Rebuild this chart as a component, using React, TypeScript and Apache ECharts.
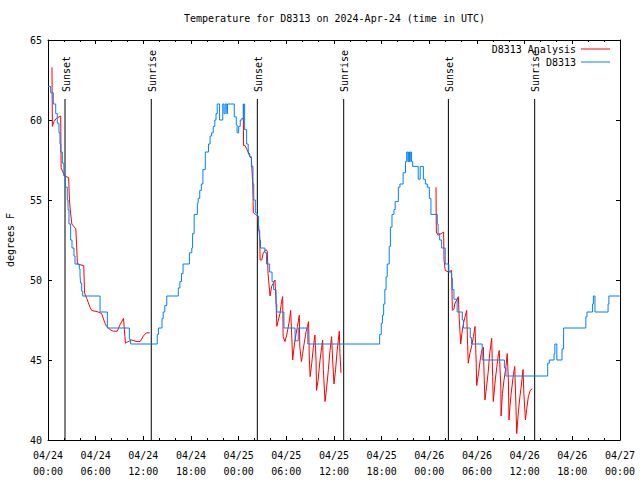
import React, { useEffect, useRef } from "react";
import * as echarts from "echarts";

// Hours since 2024-04-24 00:00 UTC
const chartTitle = "Temperature for D8313 on 2024-Apr-24 (time in UTC)";
const yAxisName = "degrees F";
const analysisName = "D8313 Analysis";
const observedName = "D8313";

const xTickLabels = [
  "04/24\n00:00", "04/24\n06:00", "04/24\n12:00", "04/24\n18:00",
  "04/25\n00:00", "04/25\n06:00", "04/25\n12:00", "04/25\n18:00",
  "04/26\n00:00", "04/26\n06:00", "04/26\n12:00", "04/26\n18:00",
  "04/27\n00:00",
];

const sunHours = [2.14, 13.0, 26.35, 37.22, 50.4, 61.26];
const sunLabels = ["Sunset", "Sunrise", "Sunset", "Sunrise", "Sunset", "Sunrise"];

// Observed station temperature (step changes)
const observedDay1: [number, number][] = [
  [0, 62.1], [0.34, 61.7], [0.67, 61.0], [0.97, 60.4], [1.17, 59.8], [1.38, 59.2], [1.51, 58.5],
  [1.6, 58.0], [1.8, 57.3], [2.0, 56.5], [2.2, 55.8], [2.43, 55.0], [2.52, 54.4], [2.64, 53.5],
  [2.85, 52.5], [3.02, 52.0], [3.27, 51.5], [3.4, 51.0], [3.94, 50.7], [4.03, 50.3], [4.1, 49.8],
  [4.24, 49.3], [4.37, 49.0], [6.55, 48.0], [7.47, 47.0], [10.24, 46.3], [10.4, 46.0],
  [13.75, 46.6], [13.9, 47.0], [14.35, 47.6], [14.5, 48.0], [14.7, 48.4], [14.95, 49.0],
  [16.4, 49.5], [16.6, 49.9], [16.8, 50.4], [17.0, 51.0], [17.8, 51.7], [18.1, 52.0], [18.2, 52.9],
  [18.4, 54.1], [18.8, 54.8], [18.9, 55.1], [19.1, 55.6], [19.3, 56.0], [19.5, 56.9], [19.8, 58.0],
  [20.2, 58.5], [20.4, 59.0], [20.6, 59.2], [20.8, 59.6], [21.0, 60.0], [21.15, 60.4], [21.3, 61.0],
  [21.6, 60.0], [22.0, 61.0], [22.15, 60.4], [22.3, 61.0], [22.5, 60.4], [22.6, 61.0], [23.45, 60.2],
  [23.7, 59.7], [23.8, 59.2], [24.0, 59.6], [24.2, 60.0], [24.4, 60.1], [24.6, 61.0],
];
const observedDay2: [number, number][] = [
  [24.75, 59.4], [25.0, 58.5], [25.2, 57.9], [25.4, 57.7], [25.6, 57.1], [25.8, 56.0], [25.9, 55.0],
  [26.1, 54.2], [26.35, 54.0], [26.5, 53.1], [26.65, 52.5], [26.75, 52.0], [27.3, 51.7], [27.5, 51.0],
  [27.9, 50.5], [28.2, 49.9], [28.4, 49.4], [28.7, 48.5], [28.8, 48.0], [29.7, 47.0], [31.1, 46.2],
  [31.5, 47.0], [32.7, 46.0], [41.75, 46.6], [41.95, 47.3], [42.1, 47.8], [42.25, 48.5], [42.4, 49.4],
  [42.55, 50.2], [42.7, 51.0], [42.95, 52.1], [43.1, 53.3], [43.3, 54.1], [43.55, 54.4], [43.7, 54.9],
  [44.1, 55.8], [44.3, 56.0], [44.7, 56.7], [45.0, 57.4], [45.15, 58.0], [45.3, 57.4], [45.4, 58.0],
  [45.5, 57.4], [45.6, 58.0], [45.75, 57.4], [45.9, 57.1], [46.6, 56.3], [46.85, 57.1], [47.25, 56.3],
  [47.5, 56.0], [47.75, 55.8], [48.0, 55.1], [48.2, 54.1],
];
const observedDay3: [number, number][] = [
  [49.0, 53.5], [49.1, 52.9], [49.3, 52.5], [49.55, 52.0], [50.0, 51.0], [50.45, 50.5], [50.8, 50.1],
  [50.9, 49.4], [51.1, 48.8], [51.5, 48.0], [52.15, 47.5], [52.3, 47.0], [53.15, 46.4], [53.3, 46.0],
  [54.65, 45.0], [57.45, 44.5], [57.65, 44.0], [62.9, 44.8], [63.1, 45.0], [63.7, 45.4], [63.8, 46.0],
  [64.05, 45.0], [64.7, 45.7], [64.9, 47.0], [67.7, 47.7], [67.85, 48.0], [68.55, 48.5], [68.65, 49.0],
  [68.85, 48.0], [70.5, 48.5], [70.6, 49.0], [72, 49.0],
];

// Analysis temperature (nights only)
const analysisNight1: [number, number][] = [
  [0.5, 63.3], [0.55, 59.6], [0.75, 59.9], [1.05, 60.1], [1.6, 60.25], [1.65, 57.0], [2.1, 56.5],
  [2.6, 56.4], [2.7, 55.0], [2.8, 54.4], [3.0, 53.5], [3.5, 53.2], [3.6, 52.2], [3.7, 51.0], [4.5, 50.9],
  [4.6, 49.2], [4.87, 48.85], [5.29, 48.3], [5.5, 48.1], [6.33, 48.0], [6.75, 47.9], [7.17, 47.3],
  [7.38, 47.1], [7.8, 46.9], [8.22, 46.8], [8.72, 46.8], [9.06, 47.2], [9.5, 47.6], [9.75, 46.05],
  [9.9, 46.1], [10.5, 46.25], [11.2, 46.15], [11.6, 46.15], [12.0, 46.5], [12.4, 46.7], [12.8, 46.7],
];
const analysisNight2: [number, number][] = [
  [24.58, 61.0], [24.62, 58.4], [24.8, 58.4], [25.0, 58.2], [25.2, 58.0], [25.4, 57.7], [25.6, 57.6],
  [25.77, 56.0], [25.85, 54.2], [26.1, 54.1], [26.4, 54.0], [26.65, 52.6], [26.7, 51.25], [26.9, 51.25],
  [27.1, 51.7], [27.44, 51.9], [27.6, 51.8], [27.7, 50.4], [27.95, 49.0], [28.15, 49.6], [28.36, 49.8],
  [28.57, 50.0], [28.7, 48.75], [28.8, 47.1], [29.0, 47.5], [29.2, 47.9], [29.4, 48.65], [29.54, 48.96],
  [29.6, 46.46], [29.83, 46.15], [30.05, 46.56], [30.4, 47.5], [30.55, 48.1], [30.7, 46.25], [30.8, 45.0],
  [30.97, 45.8], [31.2, 46.56], [31.4, 47.1], [31.63, 47.8], [31.7, 45.8], [31.9, 44.9], [32.05, 45.4],
  [32.2, 45.9], [32.5, 46.8], [32.8, 47.4], [32.9, 45.0], [33.0, 43.96], [33.2, 44.8], [33.4, 45.8],
  [33.6, 46.56], [33.74, 45.0], [33.8, 43.1], [34.0, 43.75], [34.24, 45.0], [34.45, 45.8], [34.57, 46.25],
  [34.66, 44.4], [34.87, 42.4], [35.08, 43.3], [35.29, 44.4], [35.5, 45.6], [35.7, 46.46], [35.83, 45.0],
  [36.0, 43.5], [36.2, 44.4], [36.4, 45.6], [36.67, 46.8], [36.75, 45.4], [36.88, 44.2],
];
const analysisNight3: [number, number][] = [
  [48.84, 55.8], [48.88, 53.0], [49.1, 52.8], [49.5, 52.9], [49.8, 53.0], [49.85, 51.25], [50.0, 50.6],
  [50.4, 50.5], [50.8, 50.6], [50.9, 48.1], [51.1, 48.2], [51.2, 48.5], [51.45, 48.75], [51.65, 48.96],
  [51.77, 47.5], [51.95, 46.0], [52.1, 46.67], [52.3, 47.3], [52.5, 47.7], [52.7, 48.1], [52.8, 46.25],
  [52.9, 44.8], [53.1, 45.4], [53.3, 45.8], [53.55, 46.46], [53.75, 47.1], [53.9, 44.8], [53.96, 43.4],
  [54.2, 44.2], [54.4, 45.0], [54.6, 45.6], [54.8, 45.8], [54.9, 43.96], [55.0, 42.5], [55.2, 43.3],
  [55.4, 44.2], [55.6, 45.4], [55.85, 46.35], [55.97, 43.96], [56.05, 42.4], [56.3, 43.75], [56.5, 44.6],
  [56.7, 45.4], [56.8, 45.6], [57.0, 43.3], [57.03, 41.5], [57.2, 42.9], [57.4, 43.75], [57.65, 44.6],
  [57.8, 45.4], [57.95, 43.75], [58.03, 41.25], [58.15, 42.1], [58.3, 42.9], [58.55, 43.96], [58.75, 44.6],
  [58.9, 42.1], [59.0, 40.4], [59.2, 41.7], [59.4, 42.7], [59.6, 43.5], [59.8, 44.4], [59.9, 42.9],
  [60.1, 41.25], [60.25, 41.9], [60.46, 42.7], [60.7, 43.1], [60.96, 43.2],
];

const FONT = '"DejaVu Sans Mono", "Liberation Mono", monospace';
const BLACK = "#000000";
const RED = "#ff0000";
const BLUE = "#0080ff";

export default function App() {
  const ref = useRef<HTMLDivElement>(null);

  useEffect(() => {
    if (!ref.current) return;
    const chart = echarts.init(ref.current, null, { renderer: "svg" });

    const observedData = [...observedDay1, ...observedDay2, ...observedDay3];
    const analysisData: any[] = [
      ...analysisNight1,
      [18, null],
      ...analysisNight2,
      [42, null],
      ...analysisNight3,
    ];

    const textBase = { fontFamily: FONT, fontSize: 10, color: BLACK };

    const xCommon = {
      type: "value" as const,
      min: 0,
      max: 72,
      interval: 6,
      splitLine: { show: false },
      axisLine: { show: true, onZero: false, lineStyle: { color: BLACK, width: 1 } },
      axisTick: { show: true, inside: true, length: 4, lineStyle: { color: BLACK, width: 1 } },
      minorTick: { show: true, splitNumber: 3, length: 2, lineStyle: { color: BLACK, width: 1 } },
    };
    const yCommon = {
      type: "value" as const,
      min: 40,
      max: 65,
      interval: 5,
      splitLine: { show: false },
      axisLine: { show: true, onZero: false, lineStyle: { color: BLACK, width: 1 } },
      axisTick: { show: true, inside: true, length: 4, lineStyle: { color: BLACK, width: 1 } },
    };

    const legendCommon = {
      orient: "vertical" as const,
      align: "right" as const,
      right: 30,
      icon: "rect",
      itemWidth: 29,
      itemHeight: 1,
      padding: 0,
      itemGap: 0,
      textStyle: { ...textBase },
      selectedMode: false,
    };

    chart.setOption({
      animation: false,
      backgroundColor: "#ffffff",
      textStyle: { fontFamily: FONT },
      title: {
        text: chartTitle,
        left: 184,
        top: 13,
        padding: 0,
        textStyle: { ...textBase, fontWeight: "normal" },
      },
      legend: [
        { ...legendCommon, top: 44, data: [analysisName] },
        { ...legendCommon, top: 57, data: [observedName] },
      ],
      grid: {
        left: 48,
        right: 20,
        top: 40,
        bottom: 40,
        containLabel: false,
        outerBoundsMode: "none",
      },
      xAxis: [
        {
          ...xCommon,
          position: "bottom",
          axisLabel: {
            ...textBase,
            margin: 7,
            lineHeight: 16,
            formatter: (v: number) => xTickLabels[Math.round(v / 6)] ?? "",
          },
        },
        { ...xCommon, position: "top", axisLabel: { show: false } },
      ],
      yAxis: [
        {
          ...yCommon,
          position: "left",
          name: yAxisName,
          nameLocation: "middle",
          nameGap: 33,
          nameRotate: 90,
          nameTextStyle: { ...textBase },
          axisLabel: { ...textBase, margin: 6 },
        },
        { ...yCommon, position: "right", axisLabel: { show: false } },
      ],
      series: [
        {
          type: "custom",
          name: "sun",
          xAxisIndex: 0,
          yAxisIndex: 0,
          silent: true,
          clip: false,
          data: sunHours.map((h, i) => [h, i]),
          renderItem: (params: any, api: any) => {
            const t = api.value(0);
            const idx = api.value(1);
            const bottom = api.coord([t, 40]);
            const top = api.coord([t, 65]);
            const lineTop = top[1] + 59;
            return {
              type: "group",
              children: [
                {
                  type: "line",
                  shape: { x1: bottom[0], y1: bottom[1], x2: bottom[0], y2: lineTop },
                  style: { stroke: BLACK, lineWidth: 1 },
                },
                {
                  type: "text",
                  x: bottom[0] + 1,
                  y: lineTop - 7,
                  rotation: Math.PI / 2,
                  style: {
                    text: sunLabels[idx],
                    font: `10px ${FONT}`,
                    fill: BLACK,
                    align: "left",
                    verticalAlign: "middle",
                  },
                },
              ],
            };
          },
        },
        {
          type: "line",
          name: analysisName,
          xAxisIndex: 0,
          yAxisIndex: 0,
          data: analysisData,
          symbol: "none",
          showSymbol: false,
          connectNulls: false,
          lineStyle: { color: RED, width: 1 },
          itemStyle: { color: RED },
        },
        {
          type: "line",
          name: observedName,
          xAxisIndex: 0,
          yAxisIndex: 0,
          data: observedData,
          step: "end",
          symbol: "none",
          showSymbol: false,
          lineStyle: { color: BLUE, width: 1 },
          itemStyle: { color: BLUE },
        },
      ],
    });

    return () => {
      chart.dispose();
    };
  }, []);

  return (
    <div
      ref={ref}
      style={{ position: "fixed", left: 0, top: 0, width: 640, height: 480, background: "#fff" }}
    />
  );
}
